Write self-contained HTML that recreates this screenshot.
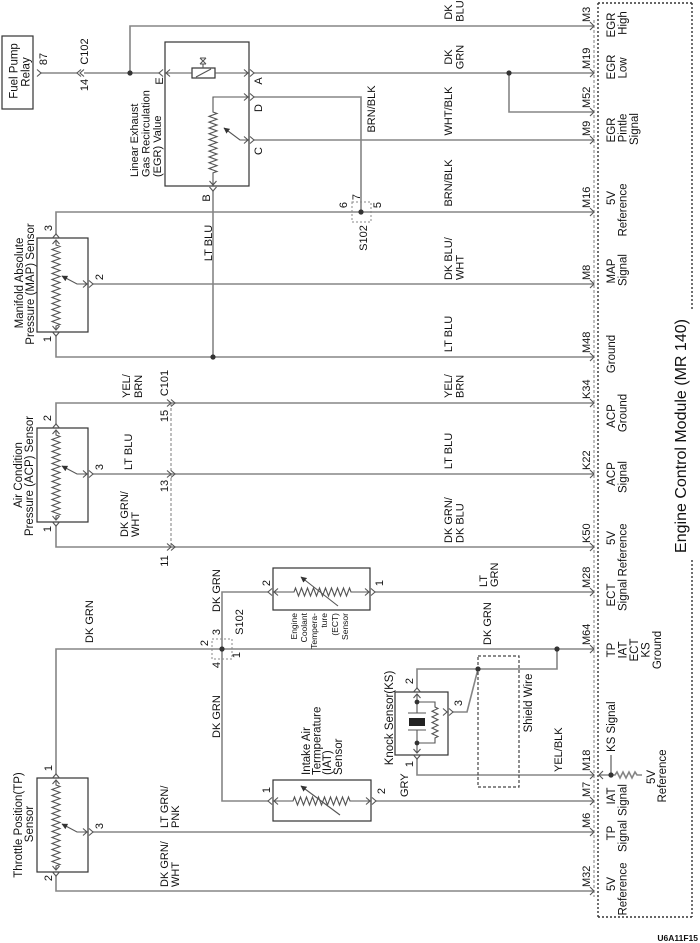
<!DOCTYPE html>
<html><head><meta charset="utf-8"><style>
html,body{margin:0;padding:0;background:#fff;}
svg{display:block}
text{font-family:"Liberation Sans",Arial,Helvetica,sans-serif;fill:#111;}
.c{text-anchor:middle}.s{text-anchor:start}.e{text-anchor:end}
.w{fill:none;stroke:#858585;stroke-width:1.6}
.b{fill:none;stroke:#333;stroke-width:1.2}
.k{fill:none;stroke:#555;stroke-width:1.1}
</style></head><body>
<svg width="700" height="943" viewBox="0 0 700 943" xmlns="http://www.w3.org/2000/svg">
<defs>
<marker id="ar" viewBox="0 0 10 10" refX="9" refY="5" markerUnits="userSpaceOnUse" markerWidth="6" markerHeight="6" orient="auto"><path d="M0,0L10,5L0,10z" fill="#333"/></marker>
</defs>
<rect width="700" height="943" fill="#fff"/>

<!-- wires -->
<g class="w">
<path d="M41,73H77 M84,73H159 M130,73V26H593"/>
<path d="M254,73H593 M509,73V112H593"/>
<path d="M254,97H361V212"/>
<path d="M254,140H593"/>
<path d="M213,191V357"/>
<path d="M56,234V212H593"/>
<path d="M93,284H593"/>
<path d="M56,336V357H593"/>
<path d="M56,424V403H593"/>
<path d="M93,474H593"/>
<path d="M56,526V547H593"/>
<path d="M222,649V592H268 M375,592H593"/>
<path d="M56,774V649H593"/>
<path d="M222,649V801H268 M376,801H593"/>
<path d="M93,832H593"/>
<path d="M56,876V891H593"/>
<path d="M417,688V669H557V649 M453,712H467L478,669"/>
<path d="M417,759V775H593"/>
<path d="M599,775H611V755 M611,775H615l2,-3l3,6l3,-6l3,6l3,-6l3,6l3,-6l2,3H642"/>
</g>

<!-- dashed elements -->
<path d="M171,403V547" stroke="#888" stroke-width="1.1" stroke-dasharray="3,2" fill="none"/>
<path d="M594,20V897" stroke="#888" stroke-width="1.1" stroke-dasharray="3,2" fill="none"/>
<rect x="352" y="202" width="19" height="20" fill="none" stroke="#888" stroke-width="1" stroke-dasharray="2,2"/>
<rect x="212" y="639" width="20" height="20" fill="none" stroke="#888" stroke-width="1" stroke-dasharray="2,2"/>
<rect x="478" y="656" width="41" height="131" fill="none" stroke="#444" stroke-width="1.2" stroke-dasharray="3,2"/>
<g stroke="#333" stroke-width="1.4" stroke-dasharray="2,2" fill="none">
<path d="M598,3H692 M598,3V917 M598,917H692 M692,3V310 M692,560V917"/>
</g>

<!-- boxes -->
<g class="b">
<rect x="2" y="36" width="31" height="73"/>
<rect x="165" y="42" width="84" height="144"/>
<rect x="37" y="238" width="51" height="94"/>
<rect x="37" y="428" width="51" height="94"/>
<rect x="37" y="778" width="51" height="94"/>
<rect x="273" y="568" width="97" height="42"/>
<rect x="273" y="780" width="98" height="41"/>
<rect x="395" y="692" width="53" height="63"/>
<rect x="192" y="68" width="23" height="10"/>
</g>

<!-- internals -->
<g class="k">
<path d="M166,73H192 M215,73H248"/>
<path d="M196,77L211,69 M200,58H206 M200,64H206 M200,58L206,64 M206,58L200,64 M203,64V68"/>
<path d="M248,97H213V112l4,1.45l-8,2.9l8,2.9l-8,2.9l8,2.9l-8,2.9l8,2.9l-8,2.9l8,2.9l-8,2.9l8,2.9l-8,2.9l8,2.9l-8,2.9l8,2.9l-8,2.9l8,2.9l-8,2.9l8,2.9l-8,2.9l8,2.9l-4,1.45V185"/>
<path d="M248,140H240L224,128" marker-end="url(#ar)"/>
<path d="M56,240V245l4,1.5l-8,3l8,3l-8,3l8,3l-8,3l8,3l-8,3l8,3l-8,3l8,3l-8,3l8,3l-8,3l8,3l-8,3l8,3l-8,3l8,3l-8,3l8,3l-8,3l8,3l-8,3l8,3l-8,3l8,3l-4,1.5V330"/>
<path d="M87,284H77L62,276" marker-end="url(#ar)"/>
<path d="M56,430V435l4,1.5l-8,3l8,3l-8,3l8,3l-8,3l8,3l-8,3l8,3l-8,3l8,3l-8,3l8,3l-8,3l8,3l-8,3l8,3l-8,3l8,3l-8,3l8,3l-8,3l8,3l-8,3l8,3l-8,3l8,3l-4,1.5V520"/>
<path d="M87,474H77L62,466" marker-end="url(#ar)"/>
<path d="M56,780V785l4,1.5l-8,3l8,3l-8,3l8,3l-8,3l8,3l-8,3l8,3l-8,3l8,3l-8,3l8,3l-8,3l8,3l-8,3l8,3l-8,3l8,3l-8,3l8,3l-8,3l8,3l-8,3l8,3l-8,3l8,3l-4,1.5V870"/>
<path d="M87,832H77L62,824" marker-end="url(#ar)"/>
<path d="M274,592H294l1.5,-4l3,8l3,-8l3,8l3,-8l3,8l3,-8l3,8l3,-8l3,8l3,-8l3,8l3,-8l3,8l3,-8l3,8l3,-8l3,8l3,-8l1.5,4H369"/>
<path d="M338,606L301,577" marker-end="url(#ar)"/>
<path d="M274,801H293l1.5,-4l3,8l3,-8l3,8l3,-8l3,8l3,-8l3,8l3,-8l3,8l3,-8l3,8l3,-8l3,8l3,-8l3,8l3,-8l3,8l3,-8l1.5,4H370"/>
<path d="M340,815L301,786" marker-end="url(#ar)"/>
<path d="M417,694V713 M408,713H426 M408,730H426 M417,730V753 M417,702H435V707l3,1.5l-6,2.8l6,2.8l-6,2.8l6,2.8l-6,2.8l6,2.8l-6,2.8l6,2.8l-6,2.8l6,2.8l-3,1.5V743H417"/>
</g>
<rect x="409" y="718" width="16" height="8" fill="#222"/>

<!-- chevrons -->
<g class="k">
<path d="M37,69.5L41,73L37,76.5 M81,69.5L77,73L81,76.5 M84,69.5L80,73L84,76.5"/>
<path d="M163,69.5L159,73L163,76.5 M170,69.5L166,73L170,76.5"/>
<path d="M244,69.5L248,73L244,76.5 M250,69.5L254,73L250,76.5 M244,93.5L248,97L244,100.5 M250,93.5L254,97L250,100.5 M244,136.5L248,140L244,143.5 M250,136.5L254,140L250,143.5"/>
<path d="M209.5,181L213,185L216.5,181 M209.5,187L213,191L216.5,187"/>
<path d="M52.5,244L56,240L59.5,244 M52.5,238L56,234L59.5,238 M52.5,326L56,330L59.5,326 M52.5,332L56,336L59.5,332 M83,280.5L87,284L83,287.5 M89,280.5L93,284L89,287.5"/>
<path d="M52.5,434L56,430L59.5,434 M52.5,428L56,424L59.5,428 M52.5,516L56,520L59.5,516 M52.5,522L56,526L59.5,522 M83,470.5L87,474L83,477.5 M89,470.5L93,474L89,477.5"/>
<path d="M52.5,784L56,780L59.5,784 M52.5,778L56,774L59.5,778 M52.5,866L56,870L59.5,866 M52.5,872L56,876L59.5,872 M83,828.5L87,832L83,835.5 M89,828.5L93,832L89,835.5"/>
<path d="M167,399.5L171,403L167,406.5 M171,399.5L175,403L171,406.5 M167,470.5L171,474L167,477.5 M171,470.5L175,474L171,477.5 M167,543.5L171,547L167,550.5 M171,543.5L175,547L171,550.5"/>
<path d="M272,588.5L268,592L272,595.5 M278,588.5L274,592L278,595.5 M365,588.5L369,592L365,595.5 M371,588.5L375,592L371,595.5"/>
<path d="M272,797.5L268,801L272,804.5 M278,797.5L274,801L278,804.5 M366,797.5L370,801L366,804.5 M372,797.5L376,801L372,804.5"/>
<path d="M413.5,698L417,694L420.5,698 M413.5,692L417,688L420.5,692 M413.5,749L417,753L420.5,749 M413.5,755L417,759L420.5,755 M443,708.5L447,712L443,715.5 M449,708.5L453,712L449,715.5"/>
<path d="M590,22L594,26L590,30 M590,69L594,73L590,77 M590,108L594,112L590,116 M590,136L594,140L590,144 M590,208L594,212L590,216 M590,280L594,284L590,288 M590,353L594,357L590,361 M590,399L594,403L590,407 M590,470L594,474L590,478 M590,543L594,547L590,551 M590,588L594,592L590,596 M590,645L594,649L590,653 M590,771L594,775L590,779 M590,797L594,801L590,805 M590,828L594,832L590,836 M590,887L594,891L590,895"/>
<path d="M603,771L599,775L603,779"/>
</g>

<!-- junction dots -->
<g fill="#333">
<circle cx="130" cy="73" r="2.6"/><circle cx="509" cy="73" r="2.6"/>
<circle cx="361" cy="212" r="2.6"/><circle cx="213" cy="357" r="2.6"/>
<circle cx="222" cy="649" r="2.6"/><circle cx="478" cy="669" r="2.6"/>
<circle cx="557" cy="649" r="2.6"/><circle cx="611" cy="775" r="2.6"/>
<circle cx="417" cy="702" r="2.4"/><circle cx="417" cy="743" r="2.4"/>
</g>

<!-- sensor names -->
<g font-size="11.5">
<text transform="translate(17.5,71) rotate(-90)" class="c">Fuel Pump</text>
<text transform="translate(29.5,72) rotate(-90)" class="c">Relay</text>
<text transform="translate(23,283) rotate(-90)" class="c">Manifold Absolute</text>
<text transform="translate(34,284) rotate(-90)" class="c">Pressure (MAP) Sensor</text>
<text transform="translate(22,475) rotate(-90)" class="c">Air Condition</text>
<text transform="translate(33,476) rotate(-90)" class="c">Pressure (ACP) Sensor</text>
<text transform="translate(22,825) rotate(-90)" class="c">Throttle Position(TP)</text>
<text transform="translate(33,824) rotate(-90)" class="c">Sensor</text>
<text transform="translate(310,775) rotate(-90)" class="s">Intake Air</text>
<text transform="translate(320.5,775) rotate(-90)" class="s">Termperature</text>
<text transform="translate(331,775) rotate(-90)" class="s">(IAT)</text>
<text transform="translate(342,775) rotate(-90)" class="s">Sensor</text>
<text transform="translate(393,718) rotate(-90)" class="c">Knock Sensor(KS)</text>
<text transform="translate(532,703) rotate(-90)" class="c">Shield Wire</text>
</g>
<g font-size="11">
<text transform="translate(138,177) rotate(-90)" class="s">Linear Exhaust</text>
<text transform="translate(149.5,177) rotate(-90)" class="s">Gas Recirculation</text>
<text transform="translate(161,177) rotate(-90)" class="s">(EGR) Value</text>
</g>
<g font-size="8.5">
<text transform="translate(297,613) rotate(-90)" class="e">Engine</text>
<text transform="translate(307,613) rotate(-90)" class="e">Coolant</text>
<text transform="translate(317,613) rotate(-90)" class="e">Tempera-</text>
<text transform="translate(327,613) rotate(-90)" class="e">ture</text>
<text transform="translate(338,613) rotate(-90)" class="e">(ECT)</text>
<text transform="translate(348,613) rotate(-90)" class="e">Sensor</text>
</g>

<!-- wire labels, pins -->
<g font-size="11">
<text transform="translate(163,81) rotate(-90)" class="c">E</text>
<text transform="translate(262,81) rotate(-90)" class="c">A</text>
<text transform="translate(262,108) rotate(-90)" class="c">D</text>
<text transform="translate(262,151) rotate(-90)" class="c">C</text>
<text transform="translate(210,198) rotate(-90)" class="c">B</text>
<text transform="translate(47,59) rotate(-90)" class="c">87</text>
<text transform="translate(88,51.5) rotate(-90)" class="c">C102</text>
<text transform="translate(88,85) rotate(-90)" class="c">14</text>
<text transform="translate(375,109) rotate(-90)" class="c">BRN/BLK</text>
<text transform="translate(367,238) rotate(-90)" class="c">S102</text>
<text transform="translate(212,243) rotate(-90)" class="c">LT BLU</text>

<text transform="translate(452,12) rotate(-90)" class="c">DK</text>
<text transform="translate(463.5,11) rotate(-90)" class="c">BLU</text>
<text transform="translate(452,57) rotate(-90)" class="c">DK</text>
<text transform="translate(463.5,57) rotate(-90)" class="c">GRN</text>
<text transform="translate(452,111) rotate(-90)" class="c">WHT/BLK</text>
<text transform="translate(452,183) rotate(-90)" class="c">BRN/BLK</text>
<text transform="translate(452,280) rotate(-90)" class="s">DK BLU/</text>
<text transform="translate(463.5,280) rotate(-90)" class="s">WHT</text>
<text transform="translate(452,334) rotate(-90)" class="c">LT BLU</text>
<text transform="translate(452,398) rotate(-90)" class="s">YEL/</text>
<text transform="translate(463.5,398) rotate(-90)" class="s">BRN</text>
<text transform="translate(452,451) rotate(-90)" class="c">LT BLU</text>
<text transform="translate(452,543) rotate(-90)" class="s">DK GRN/</text>
<text transform="translate(463.5,543) rotate(-90)" class="s">DK BLU</text>
<text transform="translate(487,587) rotate(-90)" class="s">LT</text>
<text transform="translate(498,587) rotate(-90)" class="s">GRN</text>
<text transform="translate(491,645) rotate(-90)" class="s">DK GRN</text>
<text transform="translate(562,772) rotate(-90)" class="s">YEL/BLK</text>

<text transform="translate(130,398) rotate(-90)" class="s">YEL/</text>
<text transform="translate(142,398) rotate(-90)" class="s">BRN</text>
<text transform="translate(132,470) rotate(-90)" class="s">LT BLU</text>
<text transform="translate(128,537) rotate(-90)" class="s">DK GRN/</text>
<text transform="translate(139,537) rotate(-90)" class="s">WHT</text>
<text transform="translate(168,383) rotate(-90)" class="c">C101</text>
<text transform="translate(168,416) rotate(-90)" class="c">15</text>
<text transform="translate(168,486) rotate(-90)" class="c">13</text>
<text transform="translate(168,561) rotate(-90)" class="c">11</text>
<text transform="translate(93,643) rotate(-90)" class="s">DK GRN</text>
<text transform="translate(220,612) rotate(-90)" class="s">DK GRN</text>
<text transform="translate(220,738) rotate(-90)" class="s">DK GRN</text>
<text transform="translate(168,828) rotate(-90)" class="s">LT GRN/</text>
<text transform="translate(179,828) rotate(-90)" class="s">PNK</text>
<text transform="translate(168,887) rotate(-90)" class="s">DK GRN/</text>
<text transform="translate(179,887) rotate(-90)" class="s">WHT</text>
<text transform="translate(243,622) rotate(-90)" class="c">S102</text>
<text transform="translate(408,797) rotate(-90)" class="s">GRY</text>

<text transform="translate(590,22) rotate(-90)" class="s">M3</text>
<text transform="translate(590,69) rotate(-90)" class="s">M19</text>
<text transform="translate(590,108) rotate(-90)" class="s">M52</text>
<text transform="translate(590,136) rotate(-90)" class="s">M9</text>
<text transform="translate(590,208) rotate(-90)" class="s">M16</text>
<text transform="translate(590,280) rotate(-90)" class="s">M8</text>
<text transform="translate(590,353) rotate(-90)" class="s">M48</text>
<text transform="translate(590,399) rotate(-90)" class="s">K34</text>
<text transform="translate(590,470) rotate(-90)" class="s">K22</text>
<text transform="translate(590,543) rotate(-90)" class="s">K50</text>
<text transform="translate(590,588) rotate(-90)" class="s">M28</text>
<text transform="translate(590,645) rotate(-90)" class="s">M64</text>
<text transform="translate(590,771) rotate(-90)" class="s">M18</text>
<text transform="translate(590,797) rotate(-90)" class="s">M7</text>
<text transform="translate(590,828) rotate(-90)" class="s">M6</text>
<text transform="translate(590,887) rotate(-90)" class="s">M32</text>

<text transform="translate(347,205) rotate(-90)" class="c">6</text>
<text transform="translate(360,197) rotate(-90)" class="c">7</text>
<text transform="translate(381,205) rotate(-90)" class="c">5</text>
<text transform="translate(52,228) rotate(-90)" class="c">3</text>
<text transform="translate(103,277) rotate(-90)" class="c">2</text>
<text transform="translate(51,339) rotate(-90)" class="c">1</text>
<text transform="translate(51,418) rotate(-90)" class="c">2</text>
<text transform="translate(103,467) rotate(-90)" class="c">3</text>
<text transform="translate(51,529) rotate(-90)" class="c">1</text>
<text transform="translate(52,768) rotate(-90)" class="c">1</text>
<text transform="translate(103,826) rotate(-90)" class="c">3</text>
<text transform="translate(52,878) rotate(-90)" class="c">2</text>
<text transform="translate(208,643) rotate(-90)" class="c">2</text>
<text transform="translate(220,632) rotate(-90)" class="c">3</text>
<text transform="translate(220,665) rotate(-90)" class="c">4</text>
<text transform="translate(240,655) rotate(-90)" class="c">1</text>
<text transform="translate(270,583) rotate(-90)" class="c">2</text>
<text transform="translate(383,583) rotate(-90)" class="c">1</text>
<text transform="translate(270,790) rotate(-90)" class="c">1</text>
<text transform="translate(385,791) rotate(-90)" class="c">2</text>
<text transform="translate(413,681) rotate(-90)" class="c">2</text>
<text transform="translate(413,764) rotate(-90)" class="c">1</text>
<text transform="translate(462,703) rotate(-90)" class="c">3</text>
</g>

<!-- ECM labels -->
<g font-size="11.5">
<text transform="translate(615,25) rotate(-90)" class="c">EGR</text>
<text transform="translate(626.5,23) rotate(-90)" class="c">High</text>
<text transform="translate(615,67) rotate(-90)" class="c">EGR</text>
<text transform="translate(626.5,68) rotate(-90)" class="c">Low</text>
<text transform="translate(615,130) rotate(-90)" class="c">EGR</text>
<text transform="translate(626.5,128) rotate(-90)" class="c">Pintle</text>
<text transform="translate(638,129) rotate(-90)" class="c">Signal</text>
<text transform="translate(615,198) rotate(-90)" class="c">5V</text>
<text transform="translate(626.5,210) rotate(-90)" class="c">Reference</text>
<text transform="translate(615,271) rotate(-90)" class="c">MAP</text>
<text transform="translate(626.5,270) rotate(-90)" class="c">Signal</text>
<text transform="translate(615,354) rotate(-90)" class="c">Ground</text>
<text transform="translate(615,416) rotate(-90)" class="c">ACP</text>
<text transform="translate(626.5,413) rotate(-90)" class="c">Ground</text>
<text transform="translate(615,474) rotate(-90)" class="c">ACP</text>
<text transform="translate(626.5,477) rotate(-90)" class="c">Signal</text>
<text transform="translate(615,538) rotate(-90)" class="c">5V</text>
<text transform="translate(626.5,550) rotate(-90)" class="c">Reference</text>
<text transform="translate(615,595) rotate(-90)" class="c">ECT</text>
<text transform="translate(626.5,595) rotate(-90)" class="c">Signal</text>
<text transform="translate(615,650) rotate(-90)" class="c">TP</text>
<text transform="translate(626.5,650) rotate(-90)" class="c">IAT</text>
<text transform="translate(638,650) rotate(-90)" class="c">ECT</text>
<text transform="translate(649.5,650) rotate(-90)" class="c">KS</text>
<text transform="translate(661,650) rotate(-90)" class="c">Ground</text>
<text transform="translate(615,752) rotate(-90)" class="s">KS Signal</text>
<text transform="translate(655,777) rotate(-90)" class="c">5V</text>
<text transform="translate(666,776) rotate(-90)" class="c">Reference</text>
<text transform="translate(615,796) rotate(-90)" class="c">IAT</text>
<text transform="translate(626.5,800) rotate(-90)" class="c">Signal</text>
<text transform="translate(615,833) rotate(-90)" class="c">TP</text>
<text transform="translate(626.5,836) rotate(-90)" class="c">Signal</text>
<text transform="translate(615,884) rotate(-90)" class="c">5V</text>
<text transform="translate(626.5,889) rotate(-90)" class="c">Reference</text>
</g>
<text transform="translate(686,436) rotate(-90)" class="c" font-size="16">Engine Control Module (MR 140)</text>
<text x="698" y="941" text-anchor="end" font-size="8.5" font-weight="bold" fill="#444">U6A11F15</text>
</svg>
</body></html>
